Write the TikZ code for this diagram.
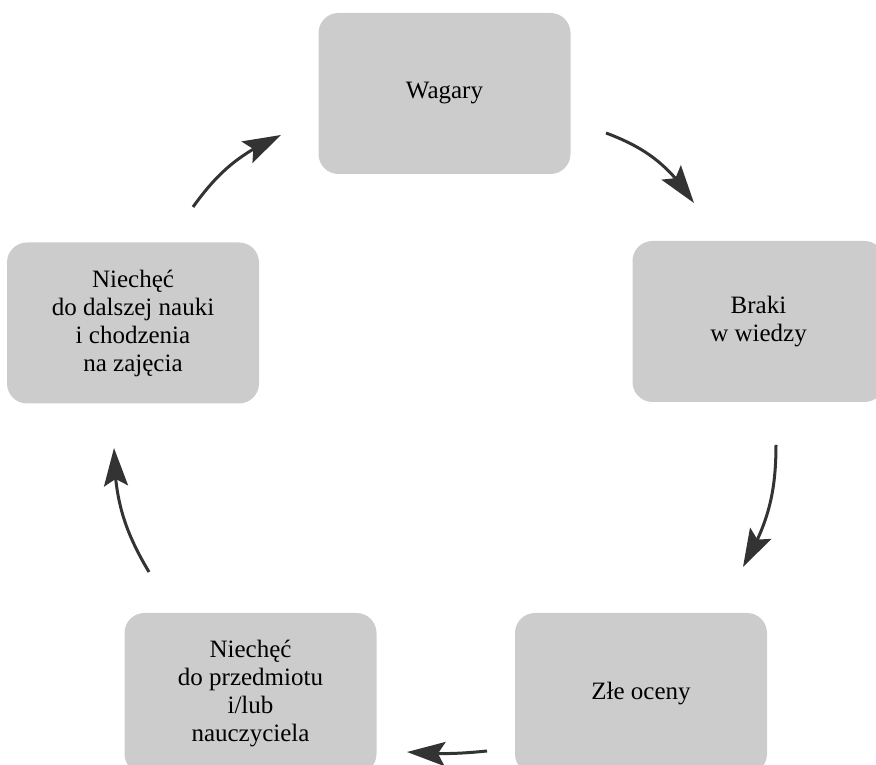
\documentclass[tikz,border=0pt]{standalone}
\usepackage{fontspec}
\setmainfont{Liberation Serif}
\usetikzlibrary{arrows.meta,bending}
\definecolor{boxgray}{HTML}{CCCCCC}
\definecolor{arrgray}{HTML}{333333}
\tikzset{
  cbox/.style={fill=boxgray, draw=none, rounded corners=20pt, minimum width=252pt,
    minimum height=161pt, inner sep=0pt, align=center,
    font=\fontsize{25}{28}\selectfont},
  cyclearrow/.style={draw=arrgray, line width=3pt,
    -{Stealth[length=38pt,width=24pt,inset=7pt,flex]}}
}
\begin{document}
\begin{tikzpicture}[x=1pt,y=1pt]
\useasboundingbox (0,0) rectangle (876,765);
\clip (0,0) rectangle (876,765);
\node[cbox] (wagary) at (444.5,671.5) {Wagary};
\node[cbox] (braki) at (758.5,443.5) {Braki\\w wiedzy};
\node[cbox] (zle) at (641,71.5) {Złe oceny};
\node[cbox] (przedmiot) at (250.5,71.5) {Niechęć\\do przedmiotu\\i/lub\\nauczyciela};
\node[cbox] (dalsza) at (133,442) {Niechęć\\do dalszej nauki\\i chodzenia\\na zajęcia};
\coordinate (a1s) at (606,632);
\coordinate (a1e) at (694,562);
\coordinate (a2s) at (776,320);
\coordinate (a2e) at (743,198);
\coordinate (a3s) at (487,14);
\coordinate (a3e) at (407,13);
\coordinate (a4s) at (149,193);
\coordinate (a4e) at (114,317);
\coordinate (a5s) at (193,558);
\coordinate (a5e) at (281,630);
\draw[cyclearrow] (a1s) to[bend left=18] (a1e);
\draw[cyclearrow] (a2s) to[bend left=15] (a2e);
\draw[cyclearrow] (a3s) to[bend left=5] (a3e);
\draw[cyclearrow] (a4s) to[bend left=15] (a4e);
\draw[cyclearrow] (a5s) to[bend left=15] (a5e);
\end{tikzpicture}
\end{document}
